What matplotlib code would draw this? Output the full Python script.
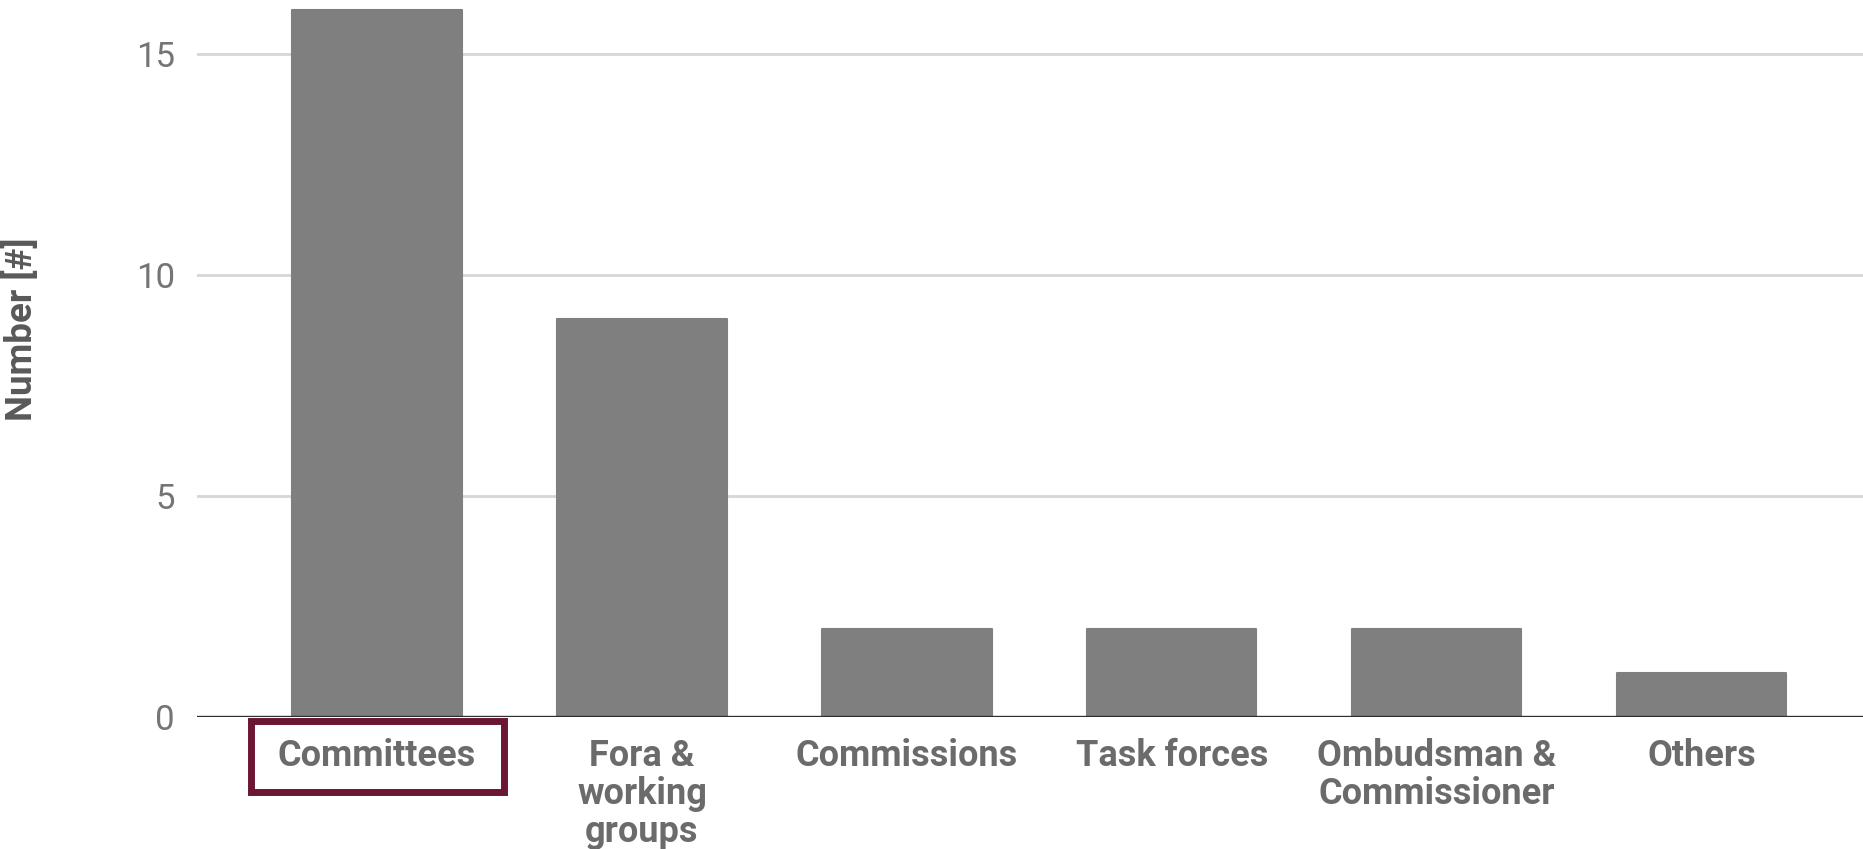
import matplotlib
matplotlib.use("Agg")
import matplotlib.pyplot as plt
from matplotlib.patches import Rectangle
import matplotlib.transforms as mtransforms

categories = ["Committees", "Fora &\nworking\ngroups", "Commissions", "Task forces",
              "Ombudsman &\nCommissioner", "Others"]
values = [16, 9, 2, 2, 2, 1]
yticks = [0, 5, 10, 15]
ylabel = "Number [#]"

plt.rcParams['font.family'] = ['Roboto', 'DejaVu Sans']

W, H = 1863, 849
fig = plt.figure(figsize=(W / 100, H / 100), dpi=100)
ax = fig.add_axes([197 / W, 1 - 717 / H, 1 - 197 / W, 717 / H])

x = list(range(len(categories)))
ax.bar(x, values, width=0.64, color="#7f7f7f", edgecolor="#7f7f7f",
       linewidth=1.5, joinstyle="round", zorder=3)

ax.set_xlim(-0.68, 5.61)
ax.set_ylim(0, 717 / 44.2)
ax.set_yticks(yticks)
ax.set_yticklabels([str(t) for t in yticks])
for t in yticks[1:]:
    ax.axhline(t, color="#d6d6d6", lw=2, zorder=1)
ax.axhline(0, color="#2e2e2e", lw=2.4, zorder=4)

for s in ax.spines.values():
    s.set_visible(False)

ax.tick_params(axis="y", length=0, pad=16, labelsize=25, labelcolor="#757575")
ax.tick_params(axis="x", length=0, pad=15, labelsize=26, labelcolor="#6b6b6b")
ax.set_xticks(x)
ax.set_xticklabels(categories, fontweight="bold", linespacing=1.08, va="top")

ax.set_ylabel(ylabel, fontsize=26.5, fontweight="bold", color="#595959", labelpad=0)
ax.yaxis.set_label_coords(-(197 - 40) / (W - 197), 1 - 329 / 717)

trans = mtransforms.blended_transform_factory(ax.transData, ax.transAxes)
rect = Rectangle((-0.478, -0.104), 0.956, 0.098, transform=trans, fill=False,
                 edgecolor="#6b1632", linewidth=5, clip_on=False, zorder=5)
ax.add_patch(rect)

fig.savefig("out.png", dpi=100, facecolor="white")
